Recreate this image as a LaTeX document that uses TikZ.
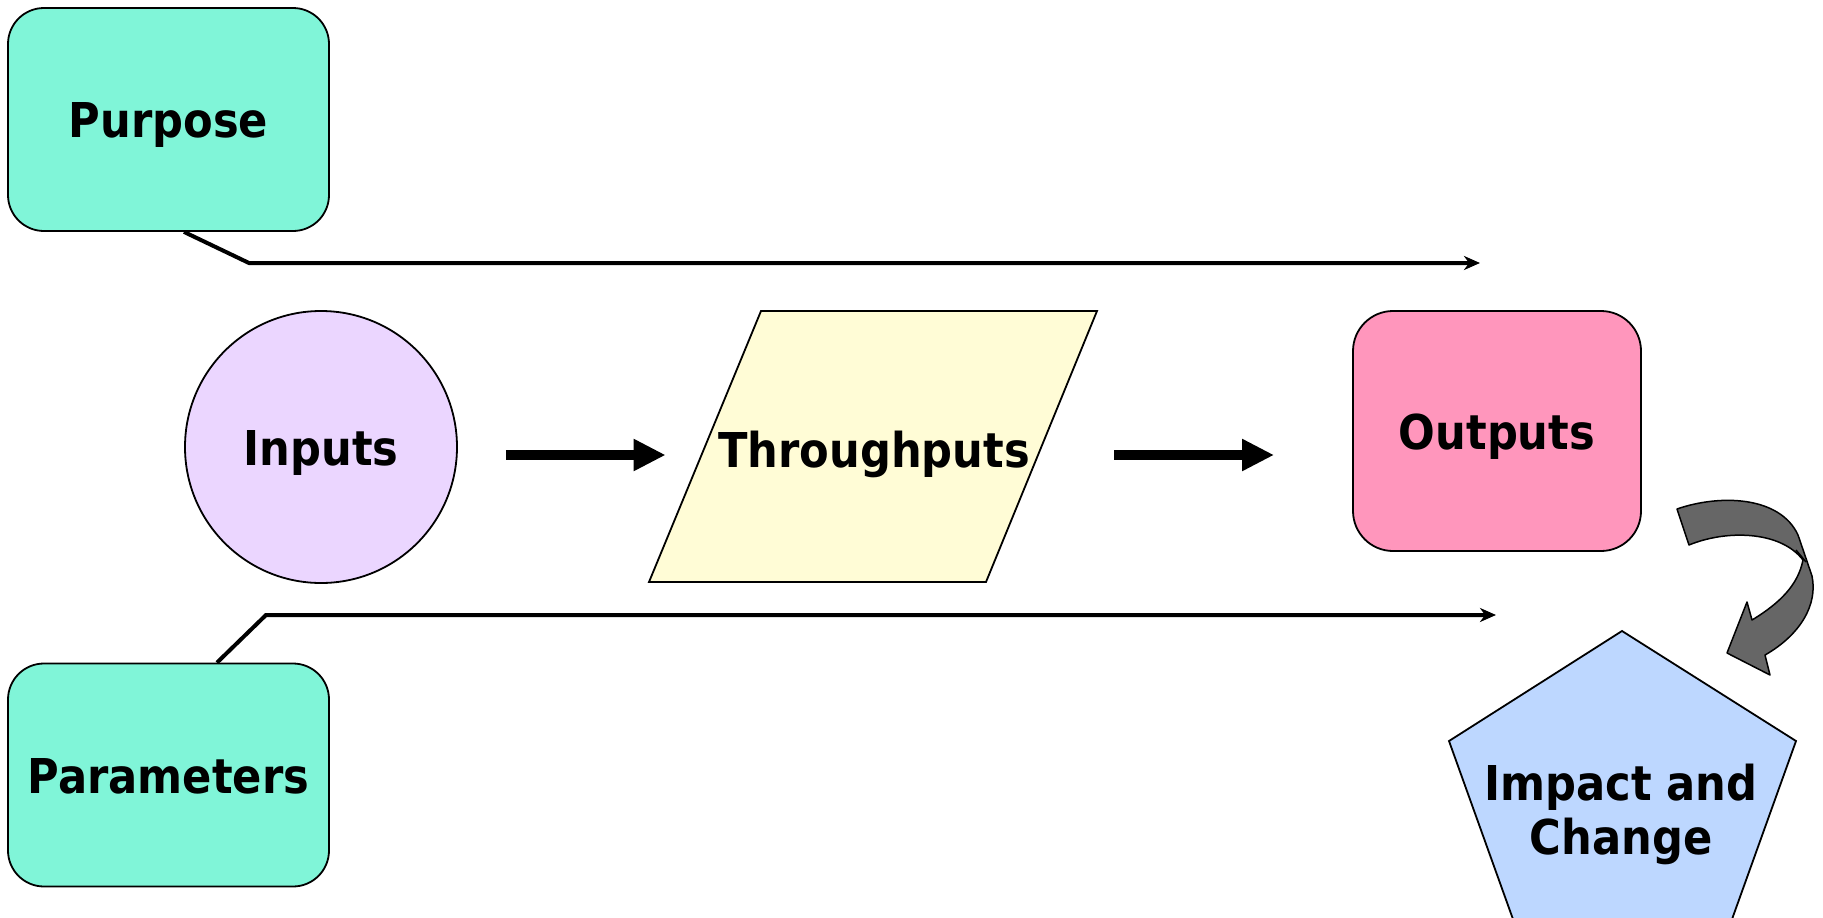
\documentclass[tikz,border=0pt]{standalone}
\usepackage{fontspec}
\newfontfamily\tah{DejaVu Sans Condensed}
\usetikzlibrary{arrows.meta,shapes.geometric,calc}
\definecolor{aquafill}{RGB}{128,245,216}
\definecolor{lavfill}{RGB}{235,214,255}
\definecolor{yelfill}{RGB}{255,252,214}
\definecolor{pinkfill}{RGB}{255,150,188}
\definecolor{bluefill}{RGB}{189,215,255}
\definecolor{arrgray}{RGB}{102,102,102}
\begin{document}
\begin{tikzpicture}[x=1pt,y=-1pt,
  lbl/.style={font=\tah\bfseries\fontsize{48}{54}\selectfont, text=black, align=center},
  oneline/.style={lbl, text height=36pt, text depth=0pt},
  shapeline/.style={draw=black, line width=1.8pt},
  rbox/.style={shapeline, rounded corners=36pt, minimum width=321pt, minimum height=223pt, inner sep=0pt},
  bigarrow/.style={line width=10pt, -{Triangle[length=32pt,width=30pt]}},
  thinarrow/.style={line width=4pt, -{Stealth[length=16pt,width=14pt,inset=5pt]}}
]
\useasboundingbox (0,0) rectangle (1823,918);

% Purpose and Parameters
\node[rbox, fill=aquafill, oneline] (pur) at (168.5,119.5) {Purpose};
\node[rbox, fill=aquafill, oneline] (par) at (168.5,775) {Parameters};

% Inputs
\node[circle, shapeline, fill=lavfill, minimum size=272pt, inner sep=0pt, oneline] (inp) at (321,447) {Inputs};

% Throughputs parallelogram
\coordinate (tTL) at (761,311);
\coordinate (tTR) at (1097,311);
\coordinate (tBR) at (986,582);
\coordinate (tBL) at (649,582);
\draw[shapeline, fill=yelfill] (tTL) -- (tTR) -- (tBR) -- (tBL) -- cycle;
\node[oneline, inner sep=0pt] (thr) at (874,449) {Throughputs};
\coordinate (thrL) at ($(tTL)!0.53!(tBL)$);
\coordinate (thrR) at ($(tTR)!0.53!(tBR)$);

% Outputs
\node[shapeline, fill=pinkfill, rounded corners=40pt, minimum width=288pt, minimum height=240pt, inner sep=0pt, oneline] (out) at (1497,431) {Outputs};

% Impact and Change pentagon
\coordinate (pT) at (1622,631);
\coordinate (pR) at (1796,741);
\coordinate (pBR) at (1731,922);
\coordinate (pBL) at (1514,922);
\coordinate (pL) at (1449,741);
\draw[shapeline, fill=bluefill] (pT) -- (pR) -- (pBR) -- (pBL) -- (pL) -- cycle;
\node[lbl, inner sep=0pt] (imp) at (1621,814) {Impact and\\Change};

% main flow arrows
\draw[bigarrow, shorten <=48pt] (inp.east |- 0,455) -- ($(thrL |- 0,455)+(-36,0)$);
\draw[bigarrow] ($(thrR |- 0,455)+(76,0)$) -- ($(out.west |- 0,455)+(-78,0)$);

% connectors from Purpose and Parameters
\coordinate (purEnd) at (1480,263);
\coordinate (parEnd) at (1496,615);
\draw[thinarrow] ($(pur.south)+(15.5,0)$) -- (249,263) -- (purEnd);
\draw[thinarrow] ($(par.north)+(48.5,0)$) -- (266,615) -- (parEnd);

% curved twisted arrow from Outputs to Impact
\draw[fill=arrgray, draw=black, line width=1.5pt, line join=round]
  (1677,509)
  .. controls (1720,494) and (1780,496) .. (1798,535)
  -- (1812,576)
  .. controls (1818,605) and (1800,635) .. (1765,655)
  -- (1770,675) -- (1727,653) -- (1747,602) -- (1752,620)
  .. controls (1780,603) and (1798,585) .. (1803,560)
  .. controls (1780,530) and (1725,530) .. (1689,545)
  -- cycle;
\draw[line width=1.5pt] (1796,550) -- (1806,562);
\end{tikzpicture}
\end{document}
